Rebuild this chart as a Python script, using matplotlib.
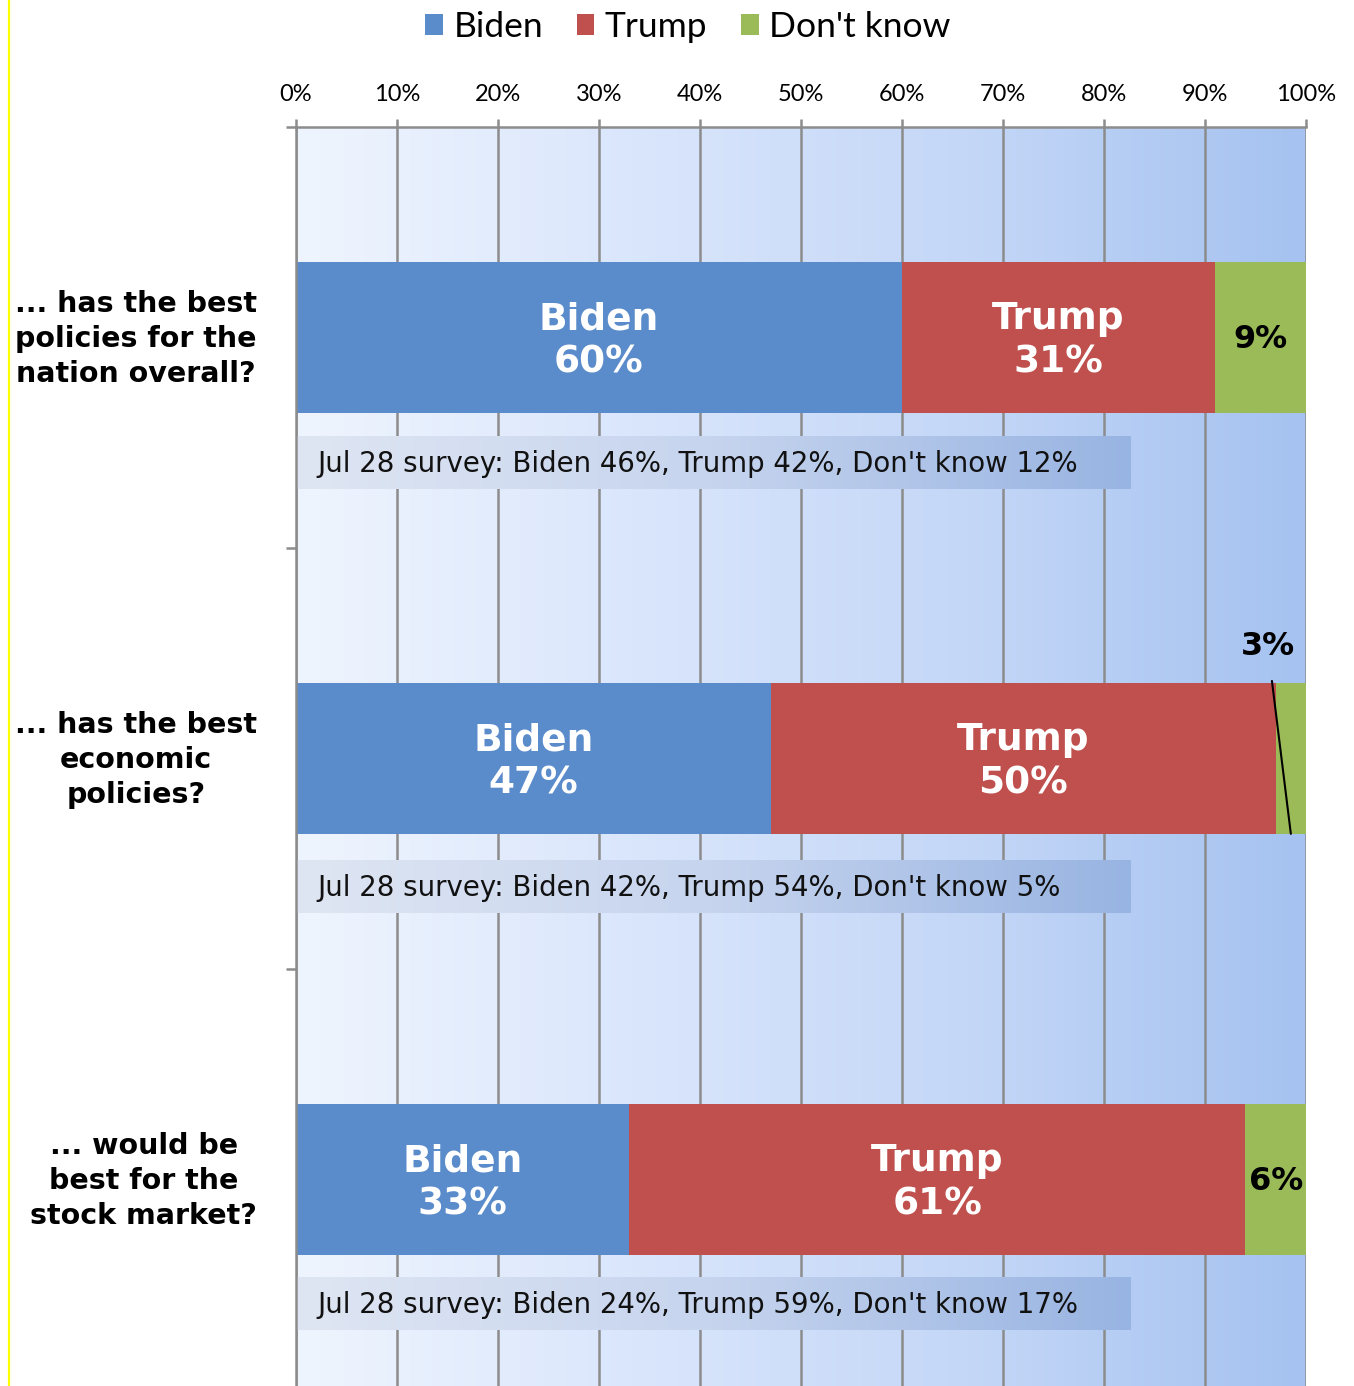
import numpy as np
import matplotlib
matplotlib.use("Agg")
import matplotlib.pyplot as plt
from matplotlib.patches import Patch
from matplotlib.colors import LinearSegmentedColormap
from matplotlib.lines import Line2D

# ---- data ----
questions = [
    "... has the best\npolicies for the\nnation overall?",
    "... has the best\neconomic\npolicies?",
    "... would be\nbest for the\nstock market?",
]
series = ["Biden", "Trump", "Don't know"]
biden = [60, 47, 33]
trump = [31, 50, 61]
dont_know = [9, 3, 6]
prior_surveys = [
    "Jul 28 survey: Biden 46%, Trump 42%, Don't know 12%",
    "Jul 28 survey: Biden 42%, Trump 54%, Don't know 5%",
    "Jul 28 survey: Biden 24%, Trump 59%, Don't know 17%",
]
xticks = [0, 10, 20, 30, 40, 50, 60, 70, 80, 90, 100]

colors = {"Biden": "#5a8bca", "Trump": "#c0504d", "Don't know": "#9bbb59"}

W, H = 1354, 1386
fig = plt.figure(figsize=(W / 100, H / 100), dpi=100)
fig.patch.set_facecolor("white")

ax_left, ax_right = 296, 1306
ax_top, ax_bottom = 127, 1390
ax = fig.add_axes([ax_left / W, (H - ax_bottom) / H,
                   (ax_right - ax_left) / W, (ax_bottom - ax_top) / H])
ax.set_xlim(0, 100)
ax.set_ylim(3, 0)

# plot-area gradient
bg = LinearSegmentedColormap.from_list("bg", ["#eff5fe", "#dae6fc", "#c4d7f7", "#a5c2f0"])
grad = np.linspace(0, 1, 512).reshape(1, -1)
ax.imshow(grad, cmap=bg, aspect="auto", extent=(0, 100, 3, 0), zorder=0,
          interpolation="bicubic")

# vertical gridlines at the ticks
for t in xticks:
    ax.axvline(t, color="#8c8c8c", lw=1.8, zorder=1)

# stacked bars
ypos = np.array([0.5, 1.5, 2.5])
bar_h = 0.358
b = np.array(biden, dtype=float)
t_ = np.array(trump, dtype=float)
d = np.array(dont_know, dtype=float)
ax.barh(ypos, b, height=bar_h, color=colors["Biden"], zorder=3)
ax.barh(ypos, t_, left=b, height=bar_h, color=colors["Trump"], zorder=3)
ax.barh(ypos, d, left=b + t_, height=bar_h, color=colors["Don't know"], zorder=3)

label_font = dict(family="DejaVu Sans", weight="bold")
for i, y in enumerate(ypos):
    ax.text(b[i] / 2, y + 0.008, f"Biden\n{biden[i]}%", ha="center", va="center",
            color="white", fontsize=27, linespacing=1.27, zorder=5, **label_font)
    ax.text(b[i] + t_[i] / 2, y + 0.008, f"Trump\n{trump[i]}%", ha="center", va="center",
            color="white", fontsize=27, linespacing=1.27, zorder=5, **label_font)

# "Don't know" labels
ax.text(b[0] + t_[0] + d[0] / 2, ypos[0] + 0.005, f"{dont_know[0]}%", ha="center",
        va="center", color="black", fontsize=23, zorder=5, **label_font)
ax.text(b[2] + t_[2] + d[2] / 2, ypos[2] + 0.005, f"{dont_know[2]}%", ha="center",
        va="center", color="black", fontsize=23, zorder=5, **label_font)
ax.annotate(f"{dont_know[1]}%", xy=(b[1] + t_[1] + d[1] / 2, ypos[1] + bar_h / 2),
            xytext=(96.2, 1.233), ha="center", va="center", color="black",
            fontsize=23, zorder=6, annotation_clip=False,
            arrowprops=dict(arrowstyle="-", color="black", lw=1.5,
                            shrinkA=12, shrinkB=0), **label_font)

# prior survey boxes
box_cmap = LinearSegmentedColormap.from_list("box", ["#dfe6f3", "#c6d4ee", "#98b4e2"])
box_w = 82.6
box_h = 0.124
box_y = [0.798, 1.805, 2.796]
for i, yc in enumerate(box_y):
    ax.imshow(grad, cmap=box_cmap, aspect="auto", zorder=4,
              extent=(0, box_w, yc + box_h / 2, yc - box_h / 2), interpolation="bicubic")
    ax.text(2.1, yc + 0.003, prior_surveys[i], ha="left", va="center", fontsize=19.9,
            family="DejaVu Sans", color="#111111", zorder=5)
ax.set_xlim(0, 100)
ax.set_ylim(3, 0)

# axes styling
for s in ["right", "bottom"]:
    ax.spines[s].set_visible(False)
for s in ["top", "left"]:
    ax.spines[s].set_color("#8c8c8c")
    ax.spines[s].set_linewidth(1.8)
    ax.spines[s].set_zorder(7)

ax.xaxis.tick_top()
ax.set_xticks(xticks)
ax.set_xticklabels([f"{v}%" for v in xticks], fontsize=17, family="Lato")
ax.tick_params(axis="x", which="major", direction="out", length=6, width=1.8,
               color="#8c8c8c", pad=10)

ax.set_yticks([0, 1, 2, 3])
ax.set_yticklabels([])
ax.tick_params(axis="y", which="major", direction="out", length=7, width=1.8,
               color="#8c8c8c")
# question labels, nudged slightly upward from the bar centres
ax.set_yticks(ypos - 0.012, minor=True)
ax.set_yticklabels(questions, minor=True, fontsize=20.5, fontweight="bold",
                   family="DejaVu Sans", multialignment="center", linespacing=1.32)
ax.tick_params(axis="y", which="minor", length=0, pad=28)

# legend
handles = [Patch(facecolor=colors[s], edgecolor="none") for s in series]
fig.legend(handles, series, loc="upper center", bbox_to_anchor=(0.508, 1.015),
           ncol=3, frameon=False, prop={"family": "Lato", "size": 25.5},
           handlelength=0.5, handleheight=0.5, handletextpad=0.3,
           columnspacing=0.95)

# thin yellow rule along the left edge
fig.add_artist(Line2D([8.5 / W, 8.5 / W], [0, 1], color="#ffff00", lw=1.6,
                      transform=fig.transFigure))

fig.savefig("out.png", dpi=100)
